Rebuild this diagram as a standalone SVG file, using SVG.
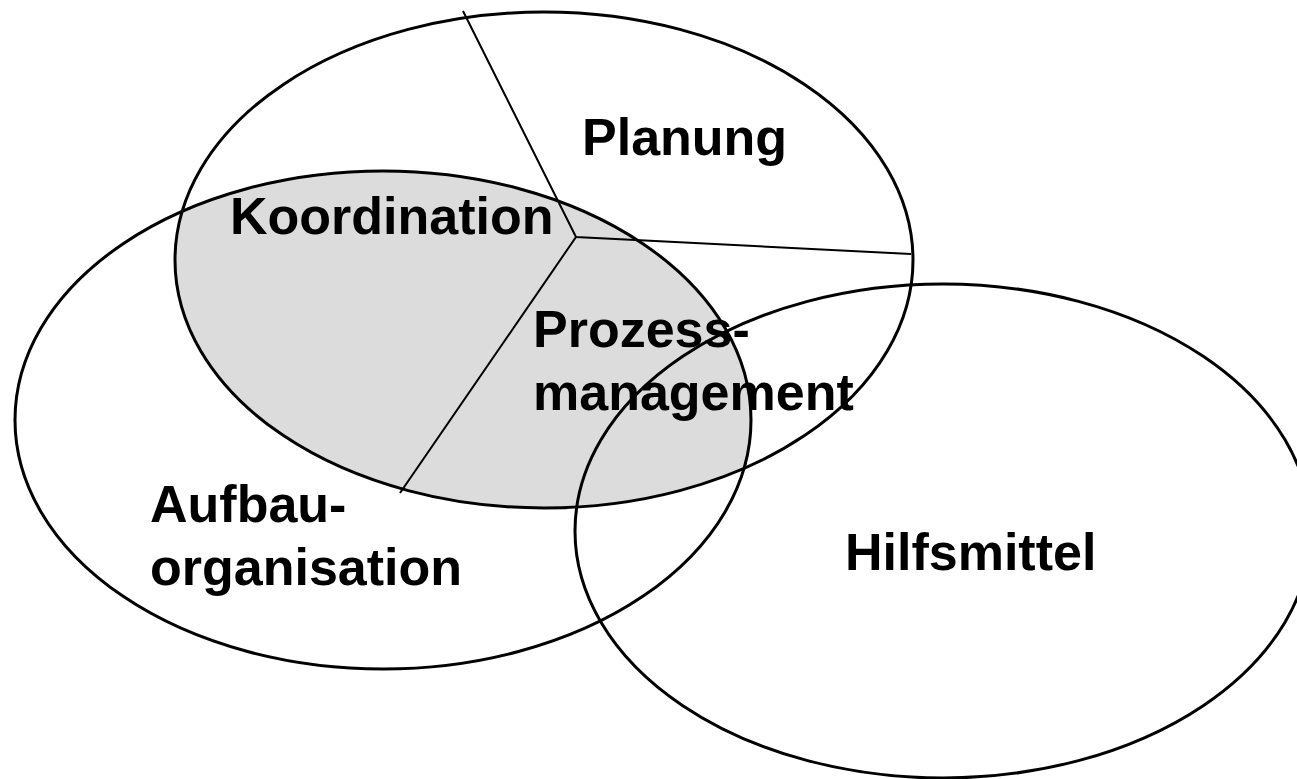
<svg xmlns="http://www.w3.org/2000/svg" width="1297" height="779" viewBox="0 0 1297 779">
<style>
.ring{fill:none;stroke:#000;stroke-width:3}
.div{fill:none;stroke:#000;stroke-width:2}
.lbl{font-family:"Liberation Sans",Arial,sans-serif;font-weight:bold;font-size:52px;fill:#000}
</style>
<defs>
<clipPath id="clipTop"><ellipse cx="544" cy="260" rx="369" ry="248"/></clipPath>
</defs>
<rect width="1297" height="779" fill="#fff"/>
<g id="overlap">
<ellipse cx="383" cy="420" rx="368" ry="249" fill="#dcdcdc" clip-path="url(#clipTop)"/>
</g>
<g id="connectors">
<polyline class="div" points="463,11 576,237 911,254"/>
<line class="div" x1="576" y1="237" x2="400" y2="493"/>
</g>
<g id="planung">
<ellipse class="ring" cx="544" cy="260" rx="369" ry="248"/>
<text class="lbl" x="582" y="155">Planung</text>
</g>
<g id="aufbauorganisation">
<ellipse class="ring" cx="383" cy="420" rx="368" ry="249"/>
<text class="lbl" x="150" y="522">Aufbau-</text>
<text class="lbl" x="150" y="585">organisation</text>
</g>
<g id="hilfsmittel">
<ellipse class="ring" cx="943" cy="531" rx="368" ry="247"/>
<text class="lbl" x="845" y="570">Hilfsmittel</text>
</g>
<g id="koordination">
<text class="lbl" x="230" y="234">Koordination</text>
</g>
<g id="prozessmanagement">
<text class="lbl" x="533" y="347">Prozess-</text>
<text class="lbl" x="533" y="410">management</text>
</g>
</svg>
